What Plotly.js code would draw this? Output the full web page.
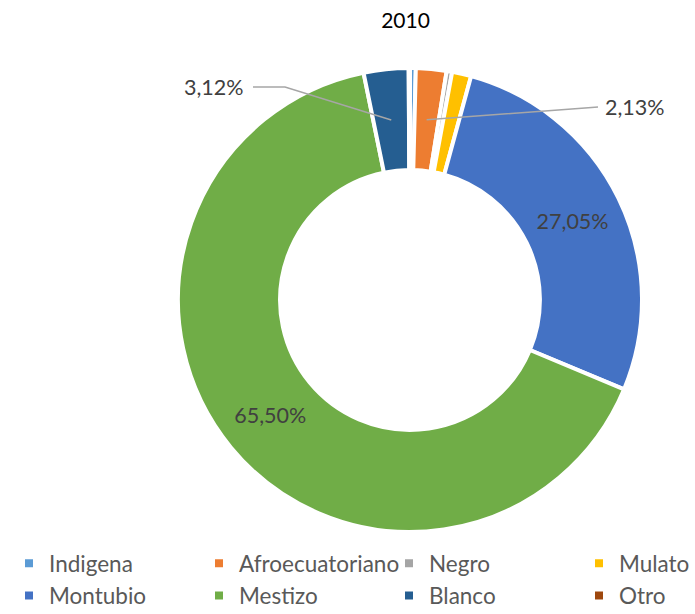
<!DOCTYPE html>
<html><head><meta charset="utf-8">
<script src="https://cdn.plot.ly/plotly-3.0.1.min.js"></script>
<style>
html,body{margin:0;padding:0;background:#fff;overflow:hidden;}
#wrap{width:695px;height:614px;overflow:hidden;position:relative;}
#chart{width:760px;height:614px;}
</style>
</head><body><div id="wrap"><div id="chart"></div></div>
<script>
const chartTitle = '2010';
const categories = ['Indigena','Afroecuatoriano','Negro','Mulato','Montubio','Mestizo','Blanco','Otro'];
const shares = [0.40, 2.13, 0.38, 1.33, 27.05, 65.50, 3.12, 0.09];
const colors = ['#5B9BD5','#ED7D31','#A5A5A5','#FFC000','#4472C4','#70AD47','#255E91','#9E480E'];
const insideLabelled = ['Montubio','Mestizo'];

const FONT = 'Lato, "Open Sans", sans-serif';
// layout canvas is wider than the visible 695px window so the 4-column legend fits
const W = 760, H = 614, M = {l:178, r:0, t:68, b:82}, HOLE = 0.56;
const pw = W - M.l - M.r, ph = H - M.t - M.b;
const DIAM = 464;
const domX = [0, DIAM / pw];
const R = DIAM / 2, cx = M.l + R, cy = M.t + ph / 2;
const toPX = px => (px - M.l) / pw, toPY = py => 1 - (py - M.t) / ph;
const total = shares.reduce((a, b) => a + b, 0);
function midAngle(name) {
  const i = categories.indexOf(name);
  const before = shares.slice(0, i).reduce((a, b) => a + b, 0);
  return (before + shares[i] / 2) / total * 2 * Math.PI;
}
function ringPoint(name) {
  const a = midAngle(name), r = R * (1 + HOLE) / 2;
  return [cx + r * Math.sin(a), cy - r * Math.cos(a)];
}
const fmt = v => v.toFixed(2).replace('.', ',') + '%';

// outside label placement (layout, pixels)
const outside = [
  {name: 'Blanco', elbow: [285, 87], end: [253, 87], text: [246, 87], anchor: 'right'},
  {name: 'Afroecuatoriano', elbow: [585, 108], end: [598, 107], text: [603, 107], anchor: 'left'}
];

const shapes = [], annotations = [];
outside.forEach(o => {
  const p = ringPoint(o.name);
  const pts = [p, o.elbow, o.end].map(q => toPX(q[0]) + ',' + toPY(q[1]));
  shapes.push({type: 'path', xref: 'paper', yref: 'paper', path: 'M' + pts.join('L'),
    line: {color: '#A6A6A6', width: 1.5}});
  annotations.push({xref: 'paper', yref: 'paper', x: toPX(o.text[0]), y: toPY(o.text[1]),
    xanchor: o.anchor, yanchor: 'middle', showarrow: false,
    text: fmt(shares[categories.indexOf(o.name)]),
    font: {family: FONT, size: 21.5, color: '#404040'}});
});

const trace = {
  type: 'pie', labels: categories, values: shares, sort: false,
  direction: 'clockwise', rotation: 0, hole: HOLE,
  marker: {colors: colors, line: {color: '#ffffff', width: 4}},
  texttemplate: categories.map(c => insideLabelled.includes(c) ? '%{value:.2f}%' : ''),
  textposition: 'inside', insidetextorientation: 'horizontal',
  textfont: {family: FONT, size: 21.5, color: '#404040'},
  domain: {x: domX, y: [0, 1]}, hoverinfo: 'label+percent'
};

const layout = {
  width: W, height: H, separators: ',.',
  margin: {l: M.l, r: M.r, t: M.t, b: M.b, autoexpand: false},
  paper_bgcolor: '#ffffff', plot_bgcolor: '#ffffff',
  font: {family: FONT, color: '#595959'},
  title: {text: chartTitle, xref: 'container', yref: 'container', x: 405.5 / W, y: 1 - 21 / H,
    xanchor: 'center', yanchor: 'middle', font: {family: FONT, size: 21, color: '#000000'}},
  showlegend: true,
  legend: {orientation: 'h', x: toPX(9), y: toPY(542), xanchor: 'left', yanchor: 'top',
    entrywidth: 145, entrywidthmode: 'pixels', traceorder: 'normal',
    font: {family: FONT, size: 22.5, color: '#595959'}, bgcolor: 'rgba(0,0,0,0)'},
  shapes: shapes, annotations: annotations
};

Plotly.newPlot('chart', [trace], layout, {displayModeBar: false, staticPlot: true});
</script>
</body></html>
